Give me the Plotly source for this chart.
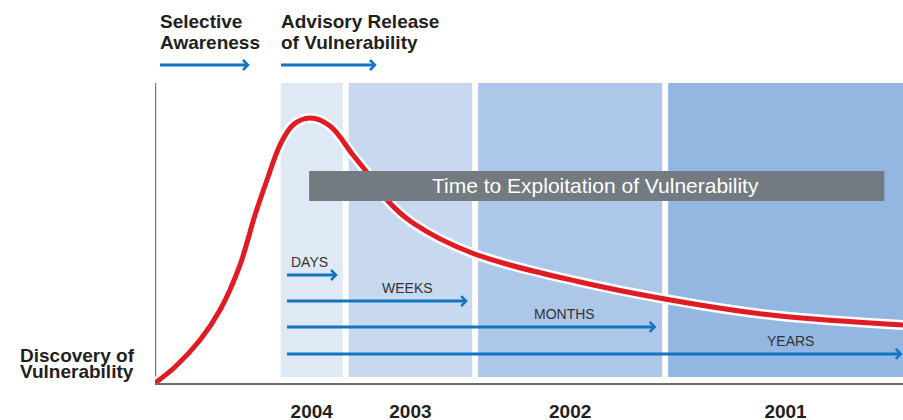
import plotly.graph_objects as go

# ---------------- data ----------------
years = ["2004", "2003", "2002", "2001"]
band_start = [16.8, 25.9, 43.2, 68.6]
band_end = [25.1, 42.4, 67.8, 100.0]
band_colors = ["#dfe8f5", "#c8d8ee", "#adc7e8", "#93b7e1"]

curve_x = [0, 2.67, 6.02, 8.69, 11.36, 13.37, 14.97, 16.71, 18.45, 20.72,
           23.40, 26.47, 29.14, 31.02, 34.49, 42.38, 56.82, 72.86, 83.56, 100]
curve_y = [0, 5.33, 14.33, 24.33, 39.33, 56.0, 67.67, 79.33, 86.0, 88.33,
           85.67, 76.0, 67.67, 61.0, 53.33, 43.33, 33.67, 26.0, 22.33, 19.33]

phase_lines = [["Selective", "Awareness"], ["Advisory Release", "of Vulnerability"]]
phase_start = [0.67, 16.84]
phase_end = [12.43, 29.41]
phase_level = 106

exposure_labels = ["DAYS", "WEEKS", "MONTHS", "YEARS"]
exposure_start = [17.65, 17.65, 17.65, 17.65]
exposure_end = [24.2, 41.6, 66.8, 99.7]
exposure_level = [36.0, 27.33, 18.67, 9.67]
exposure_label_x = [20.6, 33.8, 54.8, 84.9]

exploit_title = "Time to Exploitation of Vulnerability"
exploit_x = [20.6, 97.5]
exploit_y = [60.67, 70.67]
exploit_label_x = 58.9

origin_lines = ["Discovery of", "Vulnerability"]

# ---------------- styling ----------------
W, H = 903, 420
ML, MB = 155, 37
X_RANGE = [0, 100]
Y_RANGE = [0, 127.667]
px_per_x = (W - ML) / (X_RANGE[1] - X_RANGE[0])
px_per_y = (H - MB) / (Y_RANGE[1] - Y_RANGE[0])
BLUE = "#0f75c4"
RED = "#e01b24"
TXT = "#231f20"
FONT = "Liberation Sans, Arial, sans-serif"

fig = go.Figure()
shapes = []
annotations = []

# bands
for s, e, c in zip(band_start, band_end, band_colors):
    shapes.append(dict(type="rect", xref="x", yref="y", x0=s, x1=e, y0=2.0, y1=100,
                       fillcolor=c, line=dict(width=0), layer="below"))

# y axis line
shapes.append(dict(type="line", xref="x", yref="y", x0=0, x1=0, y0=0, y1=100,
                   line=dict(color="#7a7a7a", width=2.5), layer="below"))


def arrow(x0, x1, y):
    dx = 5 / px_per_x
    dy = 5 / px_per_y
    fig.add_trace(go.Scatter(x=[x0, x1 - 0.1], y=[y, y], mode="lines",
                             line=dict(color=BLUE, width=3), hoverinfo="skip",
                             showlegend=False))
    fig.add_trace(go.Scatter(x=[x1 - dx, x1, x1 - dx], y=[y + dy, y, y - dy],
                             mode="lines", line=dict(color=BLUE, width=2.5),
                             hoverinfo="skip", showlegend=False))


# exposure arrows
for lab, s, e, lvl, lx in zip(exposure_labels, exposure_start, exposure_end,
                              exposure_level, exposure_label_x):
    arrow(s, e, lvl)
    annotations.append(dict(x=lx, y=lvl + 13 / px_per_y, xref="x", yref="y",
                            text=lab, showarrow=False, xanchor="center",
                            yanchor="middle",
                            font=dict(family=FONT, size=14, color="#333333")))

# phase arrows + labels
for lines, s, e in zip(phase_lines, phase_start, phase_end):
    arrow(s, e, phase_level)
    for i, t in enumerate(lines):
        annotations.append(dict(x=s, y=phase_level + (44 - 21 * i) / px_per_y,
                                xref="x", yref="y", text=t, showarrow=False,
                                xanchor="left", yanchor="middle", xshift=-2,
                                font=dict(family=FONT, size=19, color=TXT,
                                          weight="bold")))

# curve (white halo + red)
fig.add_trace(go.Scatter(x=curve_x, y=curve_y, mode="lines",
                         line=dict(color="white", width=10, shape="spline"),
                         hoverinfo="skip", showlegend=False))
fig.add_trace(go.Scatter(x=curve_x, y=curve_y, mode="lines",
                         line=dict(color=RED, width=5, shape="spline"),
                         hoverinfo="skip", showlegend=False))

# exploitation box
shapes.append(dict(type="rect", xref="x", yref="y", x0=exploit_x[0], x1=exploit_x[1],
                   y0=exploit_y[0], y1=exploit_y[1], fillcolor="#737a80",
                   line=dict(width=0), layer="above"))
annotations.append(dict(x=exploit_label_x, y=sum(exploit_y) / 2,
                        xref="x", yref="y", text=exploit_title, showarrow=False,
                        font=dict(family=FONT, size=21, color="white")))

# origin label
for i, t in enumerate(origin_lines):
    annotations.append(dict(x=0, y=(28 - 16.5 * i) / px_per_y, xref="x", yref="y",
                            text=t, showarrow=False, xanchor="left", yanchor="middle",
                            xshift=18 - ML,
                            font=dict(family=FONT, size=19, color=TXT, weight="bold")))

band_centers = [(s + e) / 2 for s, e in zip(band_start, band_end)]

fig.update_layout(
    width=W, height=H,
    margin=dict(l=ML, r=0, t=0, b=MB, pad=0, autoexpand=False),
    paper_bgcolor="white", plot_bgcolor="white",
    shapes=shapes, annotations=annotations,
    xaxis=dict(range=X_RANGE, showgrid=False, zeroline=False, showline=True,
               linecolor="#6d6d6d", linewidth=2, tickvals=band_centers,
               ticktext=years, ticks="outside", ticklen=10, automargin=False,
               tickcolor="rgba(0,0,0,0)",
               tickfont=dict(family=FONT, size=19, color=TXT, weight="bold"),
               fixedrange=True),
    yaxis=dict(range=Y_RANGE, showgrid=False, zeroline=False, showline=False,
               showticklabels=False, fixedrange=True, automargin=False),
)

fig.write_html(
    "out.html",
    config={"displayModeBar": False},
    post_script="document.body.style.margin='0';document.body.style.overflow='hidden';",
)
